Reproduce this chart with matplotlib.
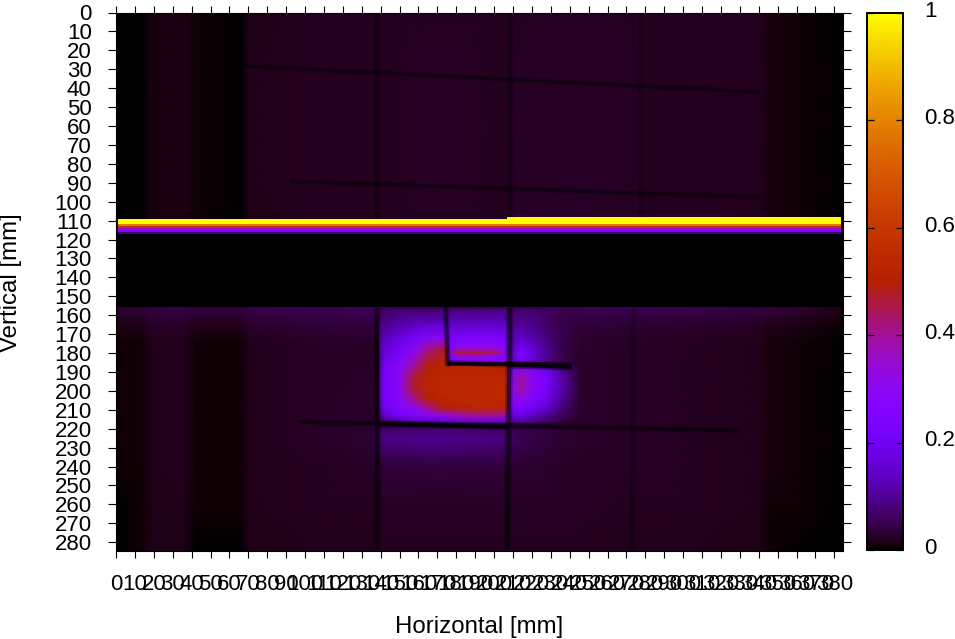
import matplotlib
matplotlib.use('Agg')
import matplotlib.pyplot as plt
import numpy as np
from matplotlib.colors import ListedColormap
from matplotlib.transforms import ScaledTranslation

plt.rcParams['font.family'] = ['Liberation Sans', 'DejaVu Sans']

# background columns (mm), shared by upper and lower detector bands
bg_x = [0.8, 14, 18, 36, 42, 66, 70, 100, 135, 142, 170, 205, 212, 240, 272, 280, 310, 340, 346, 362, 383.5]

top_y = [0, 30, 60, 90, 109.5]
top_vals = [
    [.001, .002, .010, .013, .004, .003, .015, .020, .021, .022, .023, .022, .023, .025, .023, .023, .022, .020, .008, .005, .001],
    [.001, .002, .011, .015, .004, .003, .016, .021, .022, .023, .024, .023, .025, .026, .024, .023, .022, .020, .008, .005, .001],
    [.001, .002, .011, .014, .004, .003, .016, .021, .022, .023, .024, .023, .025, .026, .024, .023, .022, .020, .008, .005, .001],
    [.001, .003, .011, .014, .004, .003, .016, .021, .022, .023, .025, .023, .025, .026, .024, .023, .022, .020, .008, .005, .001],
    [.001, .003, .010, .013, .004, .003, .015, .020, .021, .022, .023, .022, .024, .025, .023, .023, .021, .019, .008, .005, .001],
]

bot_y = [155.8, 158, 165, 175, 215, 225, 240, 260, 284.4]
bot_vals = [
    [.030, .038, .045, .050, .042, .042, .048, .052, .055, .055, .055, .055, .055, .055, .055, .055, .050, .045, .040, .034, .015],
    [.028, .034, .040, .045, .038, .038, .045, .048, .052, .052, .055, .055, .055, .052, .050, .050, .046, .040, .036, .030, .012],
    [.012, .018, .025, .030, .018, .018, .028, .036, .040, .050, .050, .050, .050, .040, .035, .034, .030, .025, .018, .012, .004],
    [.004, .006, .016, .020, .005, .005, .017, .024, .026, .030, .040, .040, .035, .030, .026, .025, .023, .018, .008, .005, .001],
    [.004, .006, .016, .020, .005, .005, .017, .024, .028, .040, .050, .050, .040, .030, .026, .025, .023, .018, .008, .005, .001],
    [.004, .006, .016, .020, .005, .005, .017, .024, .034, .090, .095, .085, .055, .030, .026, .025, .023, .018, .008, .005, .001],
    [.004, .006, .016, .020, .005, .005, .017, .023, .026, .036, .040, .038, .032, .027, .025, .024, .022, .017, .008, .005, .001],
    [.003, .005, .015, .019, .004, .004, .016, .022, .023, .024, .025, .025, .025, .024, .023, .023, .021, .016, .007, .004, .001],
    [.002, .004, .012, .015, .002, .002, .013, .018, .019, .020, .021, .021, .021, .020, .019, .019, .018, .013, .005, .003, .001],
]

# bright spot, split in three pieces around the sharp notch
lower_x = [139.5, 142, 150, 158, 165, 172, 180, 190, 200, 206, 209, 214, 220, 228, 236, 245]
lower_y = [187, 192, 198, 204, 209, 213, 216.5]
lower_vals = [
    [.12, .20, .28, .40, .50, .52, .52, .52, .52, .50, .22, .22, .22, .18, .09, .035],
    [.13, .21, .29, .47, .52, .53, .53, .53, .53, .53, .26, .38, .30, .22, .11, .035],
    [.13, .22, .30, .48, .53, .54, .54, .54, .54, .54, .28, .40, .30, .22, .12, .040],
    [.13, .21, .28, .42, .51, .53, .54, .54, .54, .53, .26, .33, .27, .20, .10, .035],
    [.12, .20, .26, .30, .40, .49, .52, .53, .53, .52, .23, .24, .21, .15, .08, .03],
    [.09, .15, .22, .26, .28, .31, .36, .40, .40, .38, .17, .18, .15, .10, .06, .03],
    [.05, .07, .10, .12, .13, .15, .16, .17, .17, .16, .10, .10, .08, .06, .04, .03],
]

upper_left_x = [139.5, 142, 150, 158, 165, 172, 175.5]
upper_left_y = [157, 165, 172, 179, 187]
upper_left_vals = [
    [.05, .06, .07, .07, .07, .07, .07],
    [.08, .09, .12, .14, .15, .15, .15],
    [.10, .13, .17, .22, .26, .28, .28],
    [.12, .16, .22, .30, .42, .47, .48],
    [.12, .20, .28, .40, .50, .52, .52],
]

upper_right_x = [175.5, 180, 190, 200, 206, 209, 214, 220, 228, 236, 245]
upper_right_y = [157, 164, 172, 177, 180, 182, 184.5]
upper_right_vals = [
    [.07, .08, .08, .08, .08, .07, .07, .07, .06, .05, .05],
    [.13, .14, .14, .14, .13, .09, .10, .09, .07, .05, .04],
    [.20, .24, .25, .25, .22, .11, .15, .12, .08, .05, .035],
    [.24, .30, .31, .31, .27, .12, .21, .15, .09, .05, .03],
    [.28, .45, .47, .44, .30, .13, .27, .17, .10, .05, .03],
    [.24, .31, .33, .31, .27, .13, .25, .17, .10, .05, .03],
    [.22, .26, .26, .26, .24, .13, .21, .15, .09, .05, .03],
]

# bright horizontal stripe, then the empty gap below it
stripe_edges = [109.3, 112.0, 113.0, 113.9, 114.9, 116.0, 117.3, 155.8]
stripe_vals = [1.0, .78, .56, .34, .26, .08, 0.0]
stripe_x = [0.8, 383.5]
step_x = [206.9, 383.5]
step_y = [108.2, 109.3]
step_val = [1.0]

# dark grid wires (mm)
wire1_x, wire1_y = [68, 341], [28.3, 42.1]
wire2_x, wire2_y = [92, 341], [89.2, 97.7]
wire3_x, wire3_y = [97, 330], [216.3, 221]
wire3_core_x, wire3_core_y = [139, 207], [217.6, 219]
vert1_top_x, vert1_top_y = [138, 138], [0, 108.5]
vert2_top_x, vert2_top_y = [208.5, 208.5], [0, 108]
vert3_top_x, vert3_top_y = [277, 277], [0, 108]
vert1_bot_x, vert1_bot_y = [138, 138.5], [156, 284]
vert2_bot_x, vert2_bot_y = [208.3, 207], [156, 284]
vert3_bot_x, vert3_bot_y = [274, 273], [156, 284]
notch_v_x, notch_v_y = [174.5, 175.5], [155.8, 187]
notch_h_x, notch_h_y = [175.5, 208], [185.2, 186.2]
notch_h2_x, notch_h2_y = [208, 241], [186.2, 187.3]

x_ticks = np.arange(0, 381, 10)
y_ticks = np.arange(0, 281, 10)
cb_ticks = [0, 0.2, 0.4, 0.6, 0.8, 1]
cb_labels = ['0', '0.2', '0.4', '0.6', '0.8', '1']

# gnuplot default pm3d palette (rgbformulae 7,5,15)
t = np.linspace(0, 1, 256)
palette = ListedColormap(np.c_[np.sqrt(t), t ** 3, np.clip(np.sin(2 * np.pi * t), 0, 1)])

W, H = 955, 639
fig = plt.figure(figsize=(W / 100, H / 100), dpi=100)
ax = fig.add_axes([116 / W, 1 - 550.5 / H, 726.7 / W, 538 / H])
ax.set_facecolor('black')


def smooth(xs, ys, vals):
    return ax.pcolormesh(xs, ys, np.array(vals), shading='gouraud', cmap=palette, vmin=0, vmax=1)


def wire(xs, ys, alpha, lw):
    # soft edge around a darker core
    ax.plot(xs, ys, color='k', alpha=alpha * 0.5, lw=lw * 1.8, solid_capstyle='butt')
    ax.plot(xs, ys, color='k', alpha=alpha, lw=lw, solid_capstyle='butt')


smooth(bg_x, top_y, top_vals)
smooth(bg_x, bot_y, bot_vals)
smooth(lower_x, lower_y, lower_vals)
smooth(upper_left_x, upper_left_y, upper_left_vals)
smooth(upper_right_x, upper_right_y, upper_right_vals)

mesh = ax.pcolormesh(stripe_x, stripe_edges, np.array(stripe_vals)[:, None], cmap=palette, vmin=0, vmax=1)
ax.pcolormesh(step_x, step_y, np.array(step_val)[None, :], cmap=palette, vmin=0, vmax=1)

wire(wire1_x, wire1_y, 0.35, 2.4)
wire(wire2_x, wire2_y, 0.35, 2.4)
wire(wire3_x, wire3_y, 0.45, 2.4)
wire(wire3_core_x, wire3_core_y, 0.7, 2.6)
wire(vert1_top_x, vert1_top_y, 0.3, 2.6)
wire(vert2_top_x, vert2_top_y, 0.3, 2.6)
wire(vert3_top_x, vert3_top_y, 0.12, 2.6)
wire(vert1_bot_x, vert1_bot_y, 0.45, 2.8)
wire(vert2_bot_x, vert2_bot_y, 0.5, 3)
wire(vert3_bot_x, vert3_bot_y, 0.2, 2.8)
wire(notch_v_x, notch_v_y, 0.5, 2.6)
wire(notch_h_x, notch_h_y, 0.6, 2.4)
wire(notch_h2_x, notch_h2_y, 0.8, 3)

ax.set_xlim(0, 384.4)
ax.set_ylim(284.4, 0)
ax.set_xticks(x_ticks)
ax.set_yticks(y_ticks)
ax.tick_params(axis='x', top=True, direction='out', length=5, width=0.8, labelsize=16, pad=12)
ax.tick_params(axis='y', right=True, direction='out', length=5.5, width=0.8, labelsize=16, pad=12)
ax.set_xlabel('Horizontal [mm]', fontsize=17.3)
ax.xaxis.set_label_coords(0.4995, -0.121)
ax.set_ylabel('Vertical [mm]', fontsize=17.3)
ax.yaxis.set_label_coords(-0.129, 0.4975)

cax = fig.add_axes([866.5 / W, 1 - 550 / H, 36.5 / W, 537 / H])
cb = fig.colorbar(mesh, cax=cax, ticks=cb_ticks)
cb.set_ticklabels(cb_labels)
cb.outline.set_linewidth(1.4)
cax.tick_params(axis='y', left=True, right=True, direction='in', length=5, width=0.9, labelsize=16, pad=15)
up = ScaledTranslation(0, 3 / 72, fig.dpi_scale_trans)
for lab in cax.get_yticklabels():
    lab.set_transform(lab.get_transform() + up)

fig.savefig('out.png', dpi=100)
